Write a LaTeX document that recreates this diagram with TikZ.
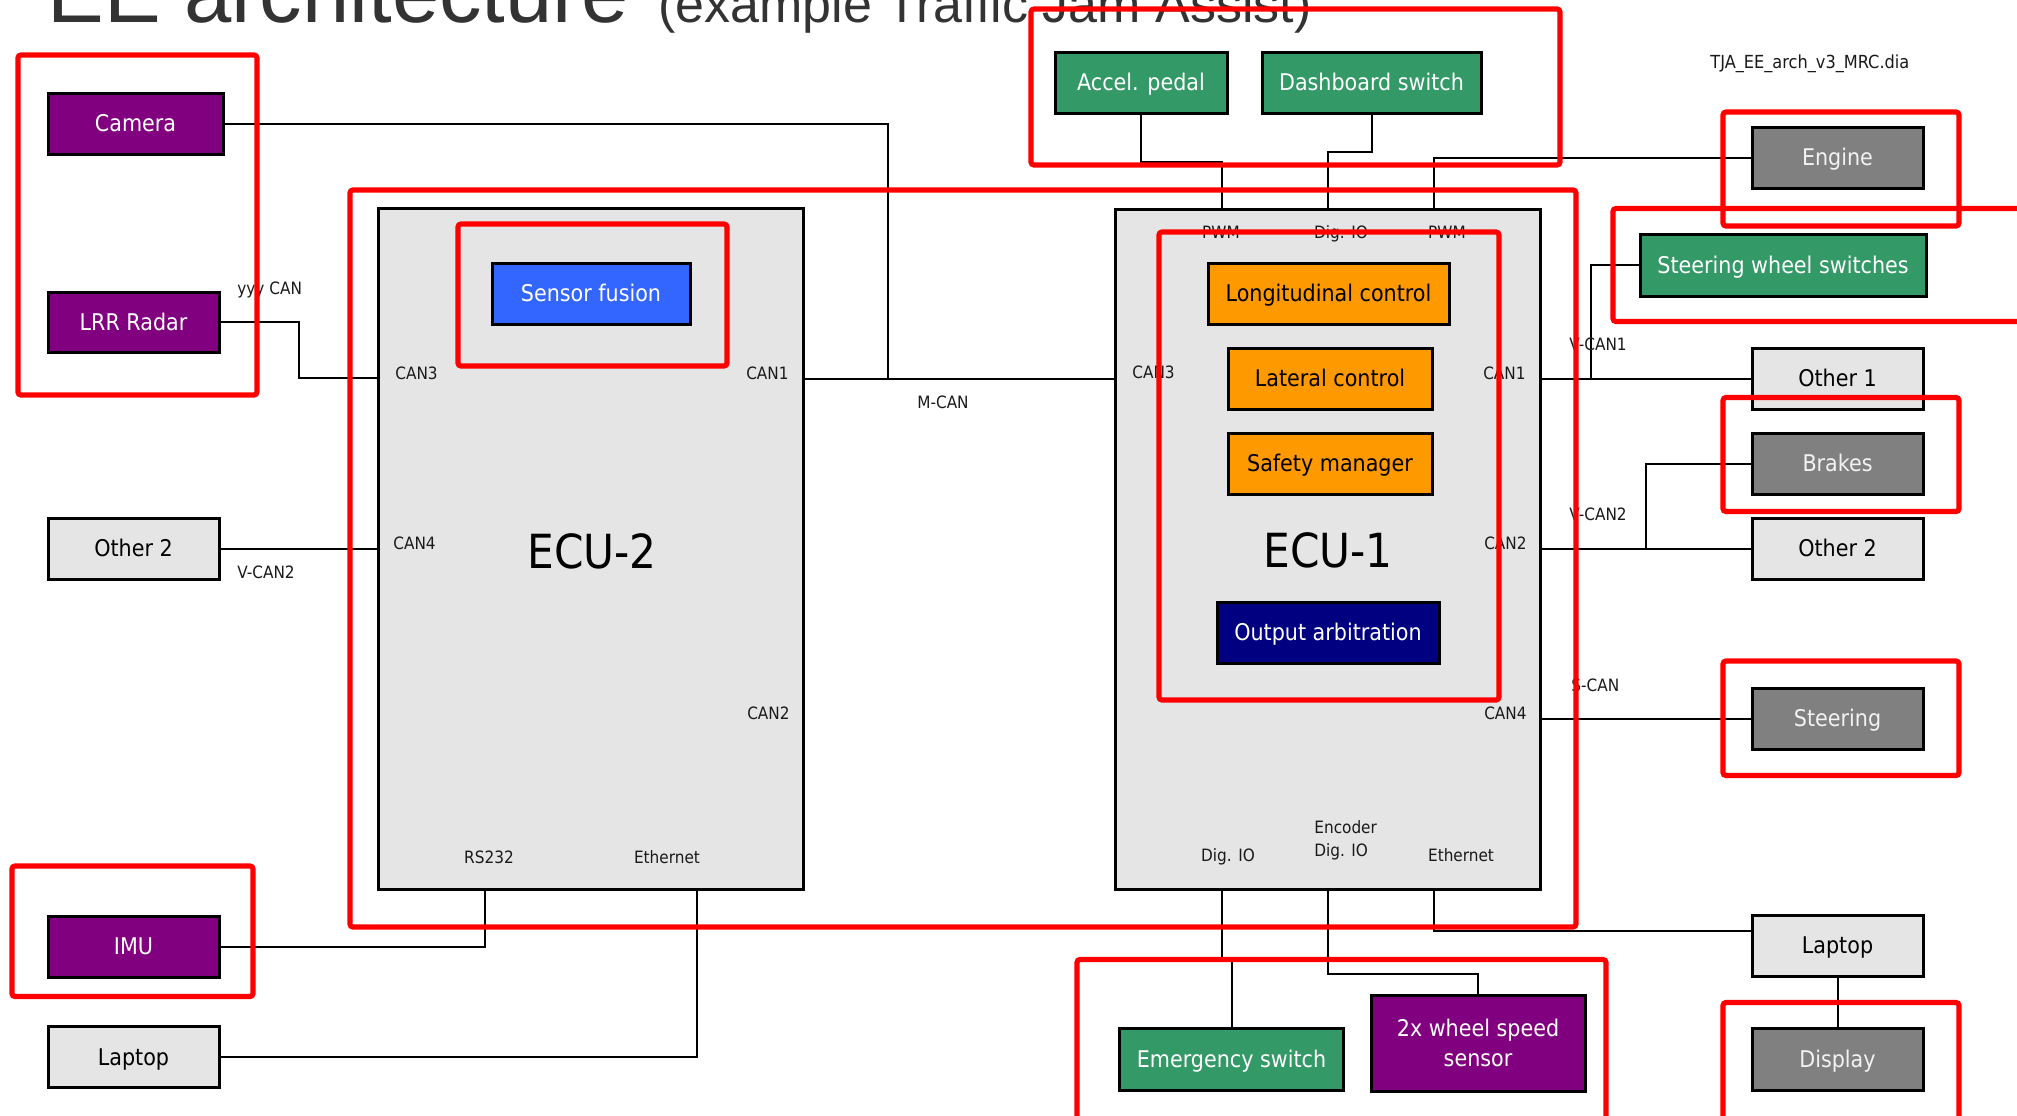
\documentclass[tikz,border=0pt]{standalone}
\usepackage{fontspec}
\setmainfont{DejaVu Sans Condensed}
\newfontfamily\titlefont{Liberation Sans}
\definecolor{cPurple}{HTML}{800080}
\definecolor{cGreen}{HTML}{339966}
\definecolor{cGray}{HTML}{808080}
\definecolor{cLight}{HTML}{E5E5E5}
\definecolor{cOrange}{HTML}{FF9900}
\definecolor{cBlue}{HTML}{3366FF}
\definecolor{cNavy}{HTML}{000080}
\definecolor{cTitle}{HTML}{333333}
\definecolor{cPort}{HTML}{1A1A1A}
\newcommand\boxfont{\fontsize{11.5}{15}\selectfont}
\newcommand\portfont{\fontsize{8.5}{11.5}\selectfont}
\newcommand\ecufont{\fontsize{23.5}{28}\selectfont}
\begin{document}
\begin{tikzpicture}[x=0.5pt,y=-0.5pt,
  box/.style={draw=black, line width=1.5pt, inner sep=0pt, font=\boxfont,
    align=center, text height=8.4pt, text depth=0pt},
  sz/.style 2 args={minimum width=#1*0.5pt, minimum height=#2*0.5pt},
  purp/.style={fill=cPurple, text=white},
  grn/.style={fill=cGreen, text=white},
  dgray/.style={fill=cGray, text=white!95!black},
  lgray/.style={fill=cLight, text=black},
  orng/.style={fill=cOrange, text=black},
  blu/.style={fill=cBlue, text=white},
  nvy/.style={fill=cNavy, text=white},
  port/.style={font=\portfont, inner sep=0pt, text=cPort, text height=6.2pt, text depth=0pt},
  ecuname/.style={font=\ecufont, inner sep=0pt, text=black},
  wire/.style={draw=black, line width=1pt},
  hl/.style={draw=red, line width=2.6pt, rounded corners=1.5pt}]

\useasboundingbox (0,0) rectangle (2017,1115);
\clip (0,0) rectangle (2017,1115);
\fill[white] (0,0) rectangle (2017,1115);

% title (runs past the top edge)
\node[anchor=base west, inner sep=0pt, text=cTitle,
  font=\titlefont\fontsize{42.5}{50}\selectfont] (ttl) at (47,22) {EE architecture};
\node[anchor=base west, inner sep=0pt, text=cTitle,
  font=\titlefont\fontsize{26}{30}\selectfont] (sub) at (658,22) {(example Traffic Jam Assist)};
\node[port, anchor=west, font=\fontsize{9}{11}\selectfont] (fname) at (1710,62) {TJA\_EE\_arch\_v3\_MRC.dia};

% ECUs
\node[box, lgray, sz={425}{681}] (ecu2) at (590.5,548.5) {};
\node[box, lgray, sz={425}{680}] (ecu1) at (1327.5,549) {};
\node[ecuname] (ecu2lbl) at (592,551) {ECU-2};
\node[ecuname] (ecu1lbl) at (1328,550) {ECU-1};

% ECU-2 functions
\node[box, blu, sz={198}{61}] (fus) at (591,293.5) {Sensor fusion};

% ECU-1 functions
\node[box, orng, sz={241}{61}] (lon) at (1328.5,293.5) {Longitudinal control};
\node[box, orng, sz={204}{61}] (lat) at (1330,378.5) {Lateral control};
\node[box, orng, sz={204}{61}] (saf) at (1330,463.5) {Safety manager};
\node[box, nvy, sz={222}{61}] (arb) at (1328,632.5) {Output arbitration};

% left column
\node[box, purp, sz={175}{61}] (cam) at (135.5,123.5) {Camera};
\node[box, purp, sz={171}{60}] (lrr) at (133.5,322) {LRR Radar};
\node[box, lgray, sz={171}{61}] (oth2L) at (133.5,548.5) {Other 2};
\node[box, purp, sz={171}{61}] (imu) at (133.5,946.5) {IMU};
\node[box, lgray, sz={171}{61}] (lapL) at (133.5,1057) {Laptop};

% top row
\node[box, grn, sz={172}{61}] (acc) at (1141,82.5) {Accel. pedal};
\node[box, grn, sz={219}{61}] (dash) at (1371.5,82.5) {Dashboard switch};

% right column
\node[box, dgray, sz={171}{61}] (eng) at (1837.5,157.5) {Engine};
\node[box, grn, sz={286}{62}] (sws) at (1783,265) {Steering wheel switches};
\node[box, lgray, sz={171}{61}] (oth1) at (1837.5,378.5) {Other 1};
\node[box, dgray, sz={171}{61}] (brk) at (1837.5,463.5) {Brakes};
\node[box, lgray, sz={171}{61}] (oth2R) at (1837.5,548.5) {Other 2};
\node[box, dgray, sz={171}{61}] (str) at (1837.5,718.5) {Steering};
\node[box, lgray, sz={171}{61}] (lapR) at (1837.5,945.5) {Laptop};
\node[box, dgray, sz={171}{62}] (disp) at (1837.5,1059) {Display};

% bottom row
\node[box, grn, sz={224}{62}] (emg) at (1231.5,1059) {Emergency switch};
\node[box, purp, sz={214}{96}, text height=23.4pt] (whl) at (1478,1043) {2x wheel speed\\sensor};

% bus junctions
\coordinate (mj) at (888,379);
\coordinate (vc1) at (1591,379);
\coordinate (vc2) at (1646,548.5);

% connectors
\draw[wire] (ecu2.east |- mj) -- (ecu1.west |- mj);
\draw[wire] (cam.east) -| (mj);
\draw[wire] (lrr.east) -- (lrr.east -| 299,0) |- (ecu2.west |- 0,378);
\draw[wire] (oth2L.east) -- (ecu2.west |- oth2L.east);
\draw[wire] (imu.east) -| (ecu2.south -| 485,0);
\draw[wire] (lapL.east) -| (ecu2.south -| 697,0);
\draw[wire] (acc.south) |- (1222,162) -- (ecu1.north -| 1222,0);
\draw[wire] (dash.south) |- (1328,152) -- (ecu1.north -| 1328,0);
\draw[wire] (ecu1.north -| 1434,0) |- (eng.west);
\draw[wire] (ecu1.east |- mj) -- (oth1.west |- mj);
\draw[wire] (sws.west) -| (vc1);
\draw[wire] (ecu1.east |- oth2R.west) -- (oth2R.west);
\draw[wire] (brk.west) -| (vc2);
\draw[wire] (ecu1.east |- str.west) -- (str.west);
\draw[wire] (ecu1.south -| 1434,0) |- (lapR.west |- 0,931);
\draw[wire] (lapR.south) -- (disp.north);
\draw[wire] (ecu1.south -| 1222,0) |- (1231.5,959) -- (emg.north);
\draw[wire] (ecu1.south -| 1328,0) |- (1478,974) -- (whl.north);

% ECU-2 port labels
\node[port, anchor=west] (e2c3) at (395,373) {CAN3};
\node[port, anchor=west] (e2c4) at (393,543) {CAN4};
\node[port, anchor=east] (e2c1) at (789,373) {CAN1};
\node[port, anchor=east] (e2c2) at (790,713) {CAN2};
\node[port] (e2rs) at (489,857) {RS232};
\node[port] (e2eth) at (667,857) {Ethernet};

% ECU-1 port labels
\node[port] (e1pwm1) at (1221,232) {PWM};
\node[port] (e1dio1) at (1341,232) {Dig. IO};
\node[port] (e1pwm2) at (1447,232) {PWM};
\node[port, anchor=west] (e1c3) at (1132,372) {CAN3};
\node[port, anchor=east] (e1c1) at (1526,373) {CAN1};
\node[port, anchor=east] (e1c2) at (1527,543) {CAN2};
\node[port, anchor=east] (e1c4) at (1527,713) {CAN4};
\node[port] (e1dio2) at (1228,855) {Dig. IO};
\node[port, anchor=west, align=left, text height=17.7pt] (e1enc) at (1314,838.5) {Encoder\\Dig. IO};
\node[port] (e1eth) at (1461,855) {Ethernet};

% bus labels
\node[port, anchor=west] (lyyy) at (237,288) {yyy CAN};
\node[port, anchor=west] (lvc2l) at (237,572) {V-CAN2};
\node[port] (lmcan) at (943,402) {M-CAN};
\node[port, anchor=west] (lvc1) at (1569,344) {V-CAN1};
\node[port, anchor=west] (lvc2r) at (1569,514) {V-CAN2};
\node[port, anchor=west] (lscan) at (1571,685) {S-CAN};

% highlight frames
\draw[hl] (18,55) rectangle (257,395);
\draw[hl] (1031,9) rectangle (1560,165);
\draw[hl] (350,190) rectangle (1576,927);
\draw[hl] (458,224) rectangle (727,366);
\draw[hl] (1159,232) rectangle (1499,700);
\draw[hl] (1723,112) rectangle (1959,226);
\draw[hl] (1613,208.5) rectangle (2040,321.5);
\draw[hl] (1723,397.5) rectangle (1959,511.5);
\draw[hl] (1723,661) rectangle (1959,775.5);
\draw[hl] (12,866) rectangle (253,996.5);
\draw[hl] (1077,959.5) rectangle (1606,1140);
\draw[hl] (1723,1002.5) rectangle (1959,1140);
\end{tikzpicture}
\end{document}
